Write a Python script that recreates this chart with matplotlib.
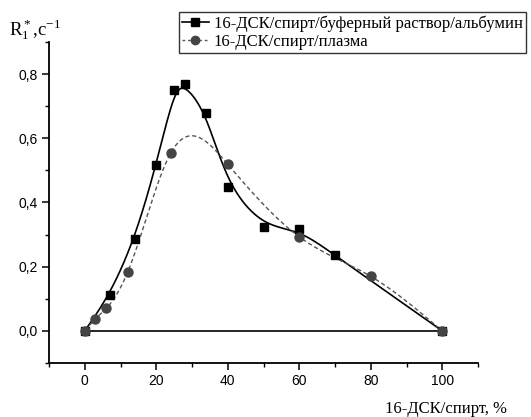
import numpy as np
import matplotlib
matplotlib.use('Agg')
import matplotlib.pyplot as plt
from matplotlib.ticker import MultipleLocator, FuncFormatter

# ── Data ──────────────────────────────────────────────────────────────
alb_x = [0, 7, 14, 20, 25, 28, 34, 40, 50, 60, 70, 100]
alb_y = [0.0, 0.112, 0.287, 0.517, 0.750, 0.769, 0.680, 0.449, 0.324, 0.316, 0.235, 0.0]

pl_x = [0, 3, 6, 12, 24, 40, 60, 80, 100]
pl_y = [0.0, 0.038, 0.070, 0.183, 0.553, 0.519, 0.293, 0.170, 0.0]

label_alb = '16-ДСК/спирт/буферный раствор/альбумин'
label_pl = '16-ДСК/спирт/плазма'
x_label = '16-ДСК/спирт, %'
y_label = r'$\mathregular{R_1^*{,}с^{-1}}$'


def bspline(x, y, n=60):
    """Clamped uniform cubic B-spline, data points used as control points."""
    P = np.column_stack([x, y]).astype(float)
    Q = np.vstack([P[:1], P[:1], P, P[-1:], P[-1:]])
    t = np.linspace(0, 1, n)[:, None]
    B = np.hstack([(1-t)**3, 3*t**3 - 6*t**2 + 4, -3*t**3 + 3*t**2 + 3*t + 1, t**3]) / 6
    pts = np.vstack([B @ Q[i:i+4] for i in range(len(Q)-3)])
    return pts[:, 0], pts[:, 1]


def natural_spline(x, y, n=400):
    """Natural cubic spline through the points."""
    x = np.asarray(x, float); y = np.asarray(y, float)
    h = np.diff(x)
    m = len(x)
    A = np.zeros((m, m)); b = np.zeros(m)
    A[0, 0] = 1; A[-1, -1] = 1
    for i in range(1, m-1):
        A[i, i-1] = h[i-1]; A[i, i] = 2*(h[i-1]+h[i]); A[i, i+1] = h[i]
        b[i] = 6*((y[i+1]-y[i])/h[i] - (y[i]-y[i-1])/h[i-1])
    M = np.linalg.solve(A, b)
    xs = np.linspace(x[0], x[-1], n)
    k = np.clip(np.searchsorted(x, xs) - 1, 0, m-2)
    t1 = x[k+1] - xs; t0 = xs - x[k]; hk = h[k]
    ys = (M[k]*t1**3 + M[k+1]*t0**3)/(6*hk) \
        + (y[k]/hk - M[k]*hk/6)*t1 + (y[k+1]/hk - M[k+1]*hk/6)*t0
    return xs, ys


plt.rcParams['font.family'] = 'Liberation Sans'
plt.rcParams['mathtext.fontset'] = 'custom'
plt.rcParams['mathtext.rm'] = 'Liberation Serif'
plt.rcParams['mathtext.it'] = 'Liberation Serif:italic'

fig = plt.figure(figsize=(5.31, 4.17), dpi=100)
ax = fig.add_axes([0.0923, 0.1295, 0.8079, 0.7698])

C_BLK = '#000000'
C_GREY = '#444444'

# baseline joining first and last points
ax.plot([alb_x[0], alb_x[-1]], [alb_y[0], alb_y[-1]], color=C_BLK, lw=1.2, zorder=2)

sx, sy = bspline(alb_x, alb_y)
ax.plot(sx, sy, color=C_BLK, lw=1.2, zorder=2)
px, py = natural_spline(pl_x, pl_y)
ax.plot(px, py, color='#555555', lw=1.0, ls=(0, (3, 2)), zorder=2)

ax.plot(alb_x, alb_y, ls='none', marker='s', ms=6, color=C_BLK, zorder=3)
ax.plot(pl_x, pl_y, ls='none', marker='o', ms=6.5, color=C_GREY, zorder=4)

# legend proxies
h1, = ax.plot([], [], color=C_BLK, lw=1.2, marker='s', ms=5.5)
h2, = ax.plot([], [], color='#555555', lw=1.0, ls=(0, (2, 2)), marker='o', ms=6,
              mfc=C_GREY, mec=C_GREY)
leg = ax.legend([h1, h2], [label_alb, label_pl], loc='upper right',
                bbox_to_anchor=(526/531, 1-12/417), bbox_transform=fig.transFigure,
                prop={'family': 'Liberation Serif', 'size': 12},
                frameon=True, fancybox=False, edgecolor='black', handlelength=1.6,
                handletextpad=0.3, borderpad=0.2, labelspacing=0.1, borderaxespad=0)
leg.get_frame().set_linewidth(1.0)

ax.set_xlim(-10, 110)
ax.set_ylim(-0.1, 0.9)
ax.xaxis.set_minor_locator(MultipleLocator(10))
ax.yaxis.set_minor_locator(MultipleLocator(0.1))
ax.set_yticks([0, 0.2, 0.4, 0.6, 0.8])
ax.set_xticks([0, 20, 40, 60, 80, 100])
ax.yaxis.set_major_formatter(FuncFormatter(lambda v, p: f'{v:.1f}'.replace('.', ',')))

ax.spines['top'].set_visible(False); ax.spines['right'].set_visible(False)
for s in ('left', 'bottom'):
    ax.spines[s].set_linewidth(1.3)
ax.tick_params(which='major', direction='out', length=5, width=1.1,
               labelsize=10, pad=3)
ax.tick_params(which='minor', direction='out', length=3, width=1.0)

fig.text(9/531, 1-36/417, y_label, fontsize=13.5, family='Liberation Serif',
         ha='left', va='baseline')
fig.text(507/531, 1-413/417, x_label, fontsize=12, family='Liberation Serif',
         ha='right', va='baseline')

fig.savefig('out.png', dpi=100)
